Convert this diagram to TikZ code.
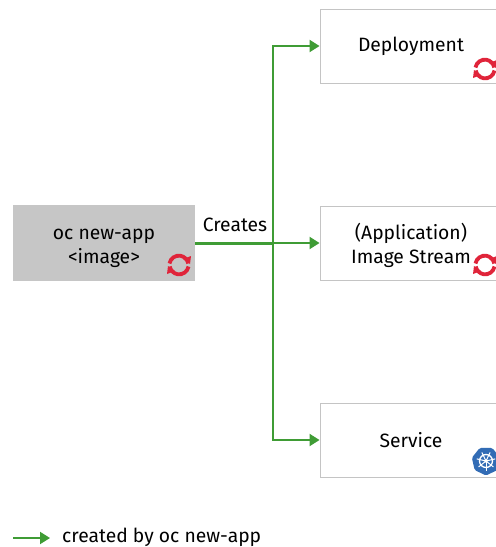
\documentclass[tikz,border=0pt]{standalone}
\usepackage{fontspec}
\setmainfont{Fira Sans}
\usetikzlibrary{arrows.meta,calc}
\definecolor{flow}{HTML}{3F9C35}
\definecolor{oshift}{HTML}{E0243A}
\definecolor{kube}{HTML}{326CB5}
\definecolor{srcfill}{HTML}{C6C6C6}
\definecolor{edge}{HTML}{C4C4C4}
\newcommand{\lowerline}{\rule{0pt}{22pt}}
\tikzset{
  x=1pt,y=-1pt,
  srcbox/.style={draw=none,fill=srcfill,minimum width=182pt,minimum height=76pt,inner sep=0pt,align=center,font=\fontsize{19.3}{24}\selectfont},
  resbox/.style={draw=edge,line width=0.9pt,fill=white,minimum width=182pt,minimum height=74pt,inner sep=0pt,align=center,font=\fontsize{19.3}{24}\selectfont},
  flowline/.style={draw=flow,line width=2pt},
  flowarrow/.style={flowline,-{Triangle[length=10pt,width=12pt]}},
  lbl/.style={inner sep=0pt,font=\fontsize{19.3}{22}\selectfont},
  ospic/.pic={
    \draw[oshift,line width=3.8pt] (-9.5,-1.5) arc[start angle=190,end angle=350,x radius=9.5pt,y radius=-9.5pt] ;
    \draw[oshift,line width=3.8pt] (9.5,1.5) arc[start angle=10,end angle=170,x radius=9.5pt,y radius=-9.5pt] ;
    \fill[oshift] (4,-6) -- (12,-9) -- (11,-1) -- cycle;
    \fill[oshift] (-4,6) -- (-12,9) -- (-11,1) -- cycle;
  },
  kubepic/.pic={
    \fill[kube,rounded corners=1.5pt] (90:14.5) -- (38.6:14.5) -- (-12.9:14.5) -- (-64.3:14.5) -- (-115.7:14.5) -- (-167.1:14.5) -- (141.4:14.5) -- cycle;
    \draw[white,line width=1.3pt] (0,0) circle[radius=6.5pt];
    \fill[white] (0,0) circle[radius=1.8pt];
    \foreach \a in {90,38.6,-12.9,-64.3,-115.7,-167.1,141.4}
      \draw[white,line width=1pt] (0,0) -- (\a:9.5);
  },
}
\begin{document}
\begin{tikzpicture}
\useasboundingbox (0,0) rectangle (496,547);
\clip (0,0) rectangle (496,547);
\node[srcbox] (src) at (104,243) {\lowerline oc new-app\\\textless image\textgreater};
\node[resbox] (dep) at (411,46) {Deployment};
\node[resbox] (ims) at (411,243) {\lowerline (Application)\\Image Stream};
\node[resbox] (svc) at (411,440) {Service};
\coordinate (fork) at (273,243);
\draw[flowarrow] (src.east) -- (ims.west);
\draw[flowarrow] ($(src.east)+(0,0.5)$) -- ($(fork)+(0,0.5)$) -- (fork) |- (dep.west);
\draw[flowarrow] (fork) |- (svc.west);
\node[lbl,anchor=base] (creates) at (235,231) {Creates};
\pic at (179,265) {ospic};
\pic at (485,69) {ospic};
\pic at (485,265) {ospic};
\pic at (486,461) {kubepic};
\coordinate (ls) at (13,538);
\coordinate (le) at (50,538);
\draw[flowarrow] (ls) -- (le);
\node[lbl,anchor=base west] (legend) at (62,542.5) {created by oc new-app};
\end{tikzpicture}
\end{document}
